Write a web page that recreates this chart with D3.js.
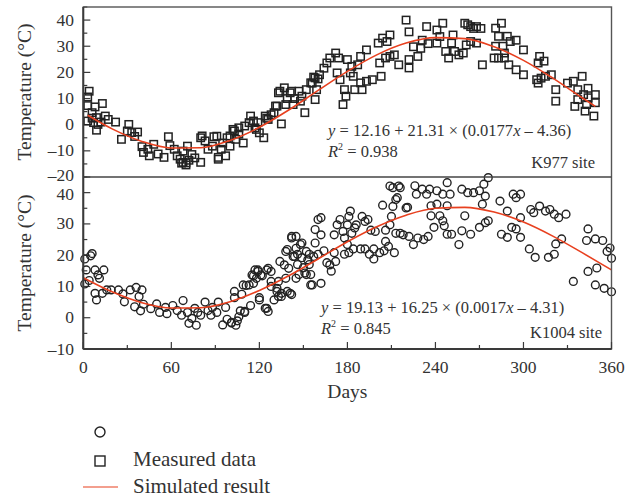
<!DOCTYPE html>
<html>
<head>
<meta charset="utf-8">
<script src="https://cdn.jsdelivr.net/npm/d3@7"></script>
<style>
  body { margin: 0; background: #fff; }
  svg { font-family: "Liberation Serif", "DejaVu Serif", serif; }
</style>
</head>
<body>
<svg id="chart" width="638" height="498"></svg>
<script>
'use strict'

// measured data, K977 site (day, temperature)
const k977Measured = [
  [4,12.8],[3,10.6],[3,7.3],[8,6.8],[13,8.1],[6,4.6],[9,2.7],[3,1.4],[15,3.3],[10,0.1],[9,-2.1],[22,1.0],[12,1.0],[6,2.5],
  [7,0.8],[17,2.0],[31,0.1],[26,-5.6],[30,-2.4],[33,-3.0],[37,-2.8],[35,-4.5],[40,-8.4],[41,-10.6],[44,-9.4],[48,-7.5],
  [45,-11.9],[51,-11.2],[55,-12.5],[58,-4.6],[59,-8.0],[62,-9.4],[64,-11.9],[66,-13.2],[68,-14.4],[70,-15.4],[72,-13.6],
  [68,-10.1],[71,-8.2],[74,-11.4],[76,-12.7],[80,-5.0],[83,-6.2],[85,-9.4],[89,-4.6],[88,-8.2],[92,-12.5],[94,-9.4],
  [97,-11.9],[95,-7.0],[98,-5.0],[100,-8.2],[103,-2.4],[104,-5.6],[106,-3.6],[109,-7.0],[110,-0.5],[114,3.3],[116,1.4],
  [118,-1.8],[113,0.8],[67,-14.7],[70,-14.6],[80,-14.4],[92,-13.2],[81,-4.3],[91,-4.4],[100,-4.3],[102,-1.8],[106,-1.2],
  [117,-1.2],[120,-3.1],[123,-5.0],[125,2.5],[128,3.8],[131,7.1],[133,12.2],[135,0.3],[137,14.1],[138,7.7],[141,12.2],
  [143,7.7],[147,12.8],[149,10.9],[151,4.6],[152,13.4],[156,15.9],[157,18.2],[158,9.6],[160,17.5],[159,13.4],
  [119,0.8],[124,3.3],[126,2.0],[130,4.6],[132,7.1],[134,12.8],[139,10.0],[142,12.8],[144,10.0],[148,9.0],[155,16.0],
  [158,17.9],[161,19.1],[164,21.6],[166,23.6],[168,25.5],[172,27.4],[174,25.5],[173,19.8],[175,17.2],[178,13.4],
  [179,10.9],[177,7.7],[180,24.9],[183,22.3],[182,19.8],[184,18.5],[185,13.4],[189,16.0],[190,13.4],[187,22.9],
  [189,26.1],[193,28.6],[193,16.6],[197,17.2],[203,18.5],[201,31.2],[204,33.1],[207,31.8],[209,34.3],[202,23.6],
  [206,25.5],[209,26.1],[212,26.7],[215,22.9],[220,40.0],[222,35.5],[225,29.8],[222,24.9],[222,21.7],[228,26.1],
  [230,29.2],[231,32.3],[234,37.5],[235,31.0],[241,36.2],[245,38.8],[241,31.2],[243,33.7],[247,28.0],[249,25.5],
  [252,34.3],[251,31.2],[253,28.0],[256,26.7],[259,27.4],[260,38.8],[262,38.2],[264,37.5],[261,30.5],[264,31.8],
  [266,36.8],[268,37.5],[271,36.8],[268,31.2],[272,22.9],[281,36.9],[285,38.8],[283,33.8],[286,30.0],[289,33.8],
  [291,31.8],[295,32.3],[281,30.0],[280,25.5],[283,25.5],[287,25.5],[290,22.9],[287,27.4],[295,21.0],[300,28.6],
  [300,19.1],[311,26.1],[310,23.6],[314,24.3],[309,17.2],[312,17.8],[315,18.5],[319,19.1],[310,15.9],[322,13.4],
  [322,9.0],[330,15.9],[334,16.6],[340,18.5],[337,13.4],[341,11.5],[344,13.9],[349,11.5],[344,10.3],[343,7.7],
  [349,8.4],[335,7.0],[342,5.2],[348,3.3],[337,9.6]
]

// measured data, K1004 site (day, temperature)
const k1004Measured = [
  [1,18.8],[5,19.8],[6,20.5],[2,15.3],[8,15.3],[14,15.3],[10,13.7],[11,12.6],[1,10.8],[4,11.9],[8,7.8],[9,5.7],[13,7.8],
  [16,8.9],[19,8.9],[24,8.9],[27,7.6],[28,5.1],[32,8.9],[36,9.7],[40,8.9],[38,6.8],[35,3.5],[39,2.2],[41,4.3],[46,2.9],
  [50,4.4],[52,1.7],[56,3.3],[57,1.3],[61,3.9],[64,2.3],[67,0.8],[68,5.5],[71,1.7],[72,-1.8],[74,-0.2],[76,3.0],[77,-2.4],
  [78,1.7],[80,0.8],[83,5.0],[85,2.3],[87,0.8],[88,3.3],[91,1.7],[92,5.0],[95,-2.3],[97,3.3],[98,-0.5],[101,-1.5],
  [103,6.4],[104,-2.4],[106,0.3],[108,7.5],[110,1.7],[111,10.3],[114,3.9],[115,13.7],[117,15.3],[116,11.0],
  [101,-1.7],[105,-1.0],[107,2.2],[110,2.0],[103,8.4],[109,10.5],[113,10.5],[116,13.4],[119,15.3],[122,13.4],[125,3.0],
  [120,6.4],[125,15.3],[130,5.7],[133,6.8],[128,11.6],[132,9.4],[135,7.8],[134,18.0],[138,21.2],[142,25.5],[144,19.6],
  [141,7.8],[145,12.6],[148,23.4],[149,19.2],[152,21.2],[151,14.3],[155,10.5],[158,28.2],[160,31.4],
  [119,14.8],[121,13.7],[118,12.6],[126,15.8],[128,14.8],[120,5.7],[124,3.0],[126,2.0],[128,10.0],[132,8.4],[133,11.6],
  [135,6.8],[139,8.4],[142,7.4],[138,12.6],[140,15.8],[137,16.9],[139,21.8],[143,19.6],[145,22.2],[142,26.0],[145,26.0],
  [146,20.3],[149,23.9],[154,20.3],[146,17.0],[150,16.0],[154,17.0],[147,13.8],[152,13.8],[155,13.8],[156,10.5],
  [162,11.0],[153,18.5],[157,19.6],[158,23.9],[162,26.5],[162,32.0],[160,20.3],[164,21.4],[166,17.6],[169,14.9],
  [168,16.9],[172,18.0],[171,20.8],[171,26.5],[173,29.7],[175,31.4],[177,27.6],[178,25.5],[180,29.7],[181,32.4],
  [182,34.1],[180,23.4],[178,20.3],[181,20.8],[184,22.0],[183,27.0],[185,28.7],[186,29.7],[190,32.4],[192,30.8],
  [194,31.4],[196,28.0],[199,27.6],[189,22.0],[192,22.0],[195,20.3],[198,22.0],[198,18.8],[202,20.8],[205,21.4],
  [206,24.4],[208,22.8],[212,20.8],[206,28.0],[209,29.7],[210,32.4],[211,35.6],[204,36.0],[214,38.4],[211,41.6],
  [216,41.6],[221,35.3],[213,27.0],[216,27.0],[218,26.5],[222,26.0],[225,23.4],[228,25.5],[232,25.0],[235,26.0],
  [227,39.5],[226,42.2],[231,41.1],[234,39.5],[236,41.1],[237,35.8],[237,32.6],[239,28.9],
  [209,42.1],[215,42.1],[213,37.8],[220,35.1],[241,40.6],[241,36.3],[245,39.5],[248,43.2],[250,39.5],[248,35.8],
  [243,32.6],[245,31.0],[246,29.4],[248,26.7],[251,26.7],[256,23.4],[258,41.1],[262,40.0],[266,40.0],[270,40.6],
  [273,42.7],[276,44.8],[274,38.9],[272,36.3],[258,27.8],[264,26.7],[270,28.9],[274,30.4],[276,31.0],[260,32.6],
  [284,37.3],[289,34.1],[293,39.5],[295,38.4],[298,39.5],[298,32.0],[292,28.9],[295,28.4],[298,25.7],[285,26.7],
  [289,25.7],[305,34.6],[307,33.6],[311,35.7],[304,22.0],[308,19.3],[315,34.1],[318,34.6],[321,33.1],[324,32.0],
  [329,33.1],[317,19.3],[321,20.3],[322,23.6],[326,25.2],[334,11.6],[343,24.7],[344,28.4],[349,25.2],[354,24.7],
  [344,14.8],[350,15.9],[349,10.5],[355,9.4],[357,21.2],[359,22.3],[360,19.0],[360,8.3]
]

// simulated result
const k977Simulated = [
  [3,3.6],[20,-1.7],[40,-6.4],[60,-8.9],[80,-8.8],[100,-6.0],[120,-1.0],[140,5.6],[160,13.1],[180,20.4],
  [200,26.7],[220,31.2],[240,33.3],[260,32.9],[280,29.8],[300,24.6],[320,17.8],[340,10.3],[349,7.0]
]
const k1004Simulated = [
  [0,12.8],[20,8.2],[40,4.8],[60,3.1],[80,3.2],[100,5.1],[120,8.7],[140,13.4],[160,18.8],[180,24.3],
  [200,29.1],[220,32.8],[240,35.0],[260,35.3],[280,33.8],[300,30.6],[320,26.1],[340,20.8],[360,15.3]
]

const xTicks = [0, 60, 120, 180, 240, 300, 360]
const topYTicks = [-20, -10, 0, 10, 20, 30, 40]
const bottomYTicks = [-10, 0, 10, 20, 30, 40]
const legendLabels = ['', 'Measured data', 'Simulated result']

const svg = d3.select('#chart')
const left = 83.3, right = 611.5
const frameColor = '#3a3a3a'
const red = '#e8401f'
const minus = d3.format('d')
function fmt(v){ return minus(v).replace('\u2212', '\u2013') }

const x = d3.scaleLinear().domain([0, 360]).range([left, right])

function panel(cfg){
  const y = d3.scaleLinear().domain(cfg.domain).range([cfg.bottom, cfg.top])
  const g = svg.append('g')

  // ticks on the left side, pointing inward
  const minor = d3.range(cfg.domain[0], cfg.domain[1] + 0.1, 5)
  g.selectAll('.ytick').data(minor).enter().append('line')
    .attr('x1', left).attr('x2', function(d){ return left + (d % 10 == 0 ? 7 : 4) })
    .attr('y1', function(d){ return y(d) }).attr('y2', function(d){ return y(d) })
    .attr('stroke', frameColor).attr('stroke-width', 1.2)

  g.selectAll('.ylab').data(cfg.ticks).enter().append('text')
    .attr('x', 74).attr('y', function(d){ return y(d) + 5.5 + cfg.labelShift(d) })
    .attr('text-anchor', 'end').attr('font-size', 17.5).attr('fill', '#333')
    .text(fmt)

  g.append('text')
    .attr('transform', 'translate(31,' + ((cfg.top + cfg.bottom) / 2) + ') rotate(-90)')
    .attr('text-anchor', 'middle').attr('font-size', 19.5).attr('fill', '#333')
    .text('Temperature (°C)')

  // measured points
  if (cfg.shape == 'square'){
    g.selectAll('.pt').data(cfg.measured).enter().append('rect')
      .attr('x', function(d){ return x(d[0]) - 3.7 })
      .attr('y', function(d){ return y(d[1]) - 3.7 })
      .attr('width', 7.4).attr('height', 7.4)
      .attr('fill', 'none').attr('stroke', '#222').attr('stroke-width', 1.5)
  } else {
    g.selectAll('.pt').data(cfg.measured).enter().append('circle')
      .attr('cx', function(d){ return x(d[0]) })
      .attr('cy', function(d){ return y(d[1]) })
      .attr('r', 3.9)
      .attr('fill', 'none').attr('stroke', '#222').attr('stroke-width', 1.4)
  }

  g.append('path')
    .attr('fill', 'none').attr('stroke', red).attr('stroke-width', 1.6)
    .attr('d', d3.line()
      .x(function(d){ return x(d[0]) })
      .y(function(d){ return y(d[1]) })
      .curve(d3.curveMonotoneX)(cfg.simulated))

  const eq = g.append('text').attr('x', cfg.eqX).attr('y', cfg.eqY)
    .attr('font-size', 16.5).attr('fill', '#333')
  eq.append('tspan').attr('font-style', 'italic').text('y')
  eq.append('tspan').text(' = ' + cfg.eq[0] + ' + ' + cfg.eq[1] + ' \u00d7 (' + cfg.eq[2])
  eq.append('tspan').attr('font-style', 'italic').text('x')
  eq.append('tspan').text(' \u2013 ' + cfg.eq[3] + ')')

  const r2 = g.append('text').attr('x', cfg.eqX).attr('y', cfg.eqY + 21)
    .attr('font-size', 16.5).attr('fill', '#333')
  r2.append('tspan').attr('font-style', 'italic').text('R')
  r2.append('tspan').attr('font-size', 10).attr('dy', -7).text('2')
  r2.append('tspan').attr('dy', 7).text(' = ' + cfg.r2)

  g.append('text').attr('x', cfg.siteX).attr('y', cfg.siteY)
    .attr('text-anchor', 'end').attr('font-size', 16.5).attr('fill', '#333')
    .text(cfg.site)

  return y
}

panel({
  domain: [-20, 45], top: 7, bottom: 177, ticks: topYTicks, shape: 'square',
  labelShift: function(d){ return d == -20 ? -2 : 0 },
  measured: k977Measured, simulated: k977Simulated,
  eq: ['12.16', '21.31', '0.0177', '4.36'], r2: '0.938', site: 'K977 site',
  eqX: 328, eqY: 136, siteX: 595, siteY: 168
})
panel({
  domain: [-10, 45], top: 177, bottom: 349, ticks: bottomYTicks, shape: 'circle',
  labelShift: function(d){ return d == 40 ? 2 : 0 },
  measured: k1004Measured, simulated: k1004Simulated,
  eq: ['19.13', '16.25', '0.0017', '4.31'], r2: '0.845', site: 'K1004 site',
  eqX: 321, eqY: 313, siteX: 602, siteY: 338
})

// frame
svg.append('rect').attr('x', left).attr('y', 7).attr('width', right - left).attr('height', 342)
  .attr('fill', 'none').attr('stroke', '#555').attr('stroke-width', 1.4)
svg.append('line').attr('x1', left).attr('x2', right).attr('y1', 177).attr('y2', 177)
  .attr('stroke', '#444').attr('stroke-width', 1.4)
svg.append('line').attr('x1', left).attr('x2', left).attr('y1', 7).attr('y2', 349)
  .attr('stroke', frameColor).attr('stroke-width', 2)
svg.append('line').attr('x1', left).attr('x2', right).attr('y1', 349).attr('y2', 349)
  .attr('stroke', frameColor).attr('stroke-width', 2)

// x axis ticks (inward) and labels
svg.selectAll('.xtick').data(d3.range(0, 361, 30)).enter().append('line')
  .attr('x1', function(d){ return x(d) }).attr('x2', function(d){ return x(d) })
  .attr('y1', 349).attr('y2', function(d){ return 349 - (d % 60 == 0 ? 7 : 4) })
  .attr('stroke', frameColor).attr('stroke-width', 1.2)
svg.selectAll('.xlab').data(xTicks).enter().append('text')
  .attr('x', function(d){ return x(d) }).attr('y', 373)
  .attr('text-anchor', 'middle').attr('font-size', 17.5).attr('fill', '#333')
  .text(fmt)
svg.append('text').attr('x', x(180)).attr('y', 398)
  .attr('text-anchor', 'middle').attr('font-size', 19.5).attr('fill', '#333')
  .text('Days')

// legend
svg.append('circle').attr('cx', 100).attr('cy', 432).attr('r', 5)
  .attr('fill', 'none').attr('stroke', '#222').attr('stroke-width', 1.4)
svg.append('rect').attr('x', 95).attr('y', 456).attr('width', 10).attr('height', 10)
  .attr('fill', 'none').attr('stroke', '#222').attr('stroke-width', 1.4)
svg.append('line').attr('x1', 83).attr('x2', 118).attr('y1', 487).attr('y2', 487)
  .attr('stroke', red).attr('stroke-width', 1.2)
svg.selectAll('.leg').data(legendLabels).enter().append('text')
  .attr('x', 133).attr('y', function(d, i){ return 439 + i * 27 })
  .attr('font-size', 21).attr('fill', '#333')
  .text(function(d){ return d })
</script>
</body>
</html>
